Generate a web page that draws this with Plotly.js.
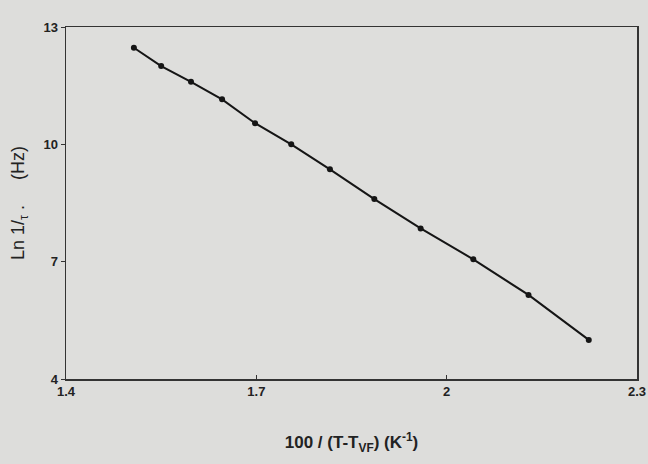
<!DOCTYPE html>
<html>
<head>
<meta charset="utf-8">
<script src="https://cdn.plot.ly/plotly-3.0.1.min.js"></script>
<style>
  html, body { margin: 0; padding: 0; background: #dddddb; }
  #chart { width: 648px; height: 464px; }
</style>
</head>
<body>
<div id="chart"></div>
<script>
// Measured relaxation rates: 100/(T - T_VF) against ln(1/tau)
var invT = [1.507, 1.550, 1.597, 1.646, 1.698, 1.755, 1.816, 1.886, 1.959, 2.042, 2.129, 2.224];
var lnRate = [12.47, 12.00, 11.60, 11.15, 10.54, 10.00, 9.36, 8.60, 7.85, 7.06, 6.15, 5.00];

var xTicks = [1.4, 1.7, 2, 2.3];
var xTickText = ['1.4', '1.7', '2', '2.3'];
var yTicks = [4, 7, 10, 13];

var FAMILY = 'Liberation Sans, Arial, sans-serif';

var traces = [
  {
    x: invT, y: lnRate, mode: 'lines+markers', type: 'scatter',
    line: { color: '#151515', width: 2 },
    marker: { color: '#151515', size: 6, symbol: 'circle' }
  }
];

var layout = {
  width: 648, height: 464,
  paper_bgcolor: '#dddddb',
  plot_bgcolor: '#dededc',
  showlegend: false,
  margin: { l: 66, r: 11, t: 27, b: 85 },
  xaxis: {
    range: [1.4, 2.3], tickvals: xTicks, ticktext: xTickText,
    showgrid: false, zeroline: false,
    showline: true, mirror: true, linecolor: '#333', linewidth: 1.5,
    ticks: 'inside', ticklen: 4, tickcolor: '#333',
    tickfont: { family: FAMILY, size: 13, color: '#222', weight: 'bold' },
    title: {
      text: '100 / (T-T<sub>VF</sub>) (K<sup>-1</sup>)',
      font: { family: FAMILY, size: 17, color: '#222', weight: 'bold' },
      standoff: 38
    }
  },
  yaxis: {
    range: [4, 13], tickvals: yTicks,
    showgrid: false, zeroline: false,
    showline: true, mirror: true, linecolor: '#333', linewidth: 1.5,
    ticks: 'outside', ticklen: 4, tickcolor: '#333',
    tickfont: { family: FAMILY, size: 13, color: '#222', weight: 'bold' },
    title: {
      text: 'Ln 1/<sub>τ</sub> .     (Hz)',
      font: { family: FAMILY, size: 18, color: '#222' },
      standoff: 14
    }
  }
};

Plotly.newPlot('chart', traces, layout, { displayModeBar: false, staticPlot: true });
</script>
</body>
</html>
